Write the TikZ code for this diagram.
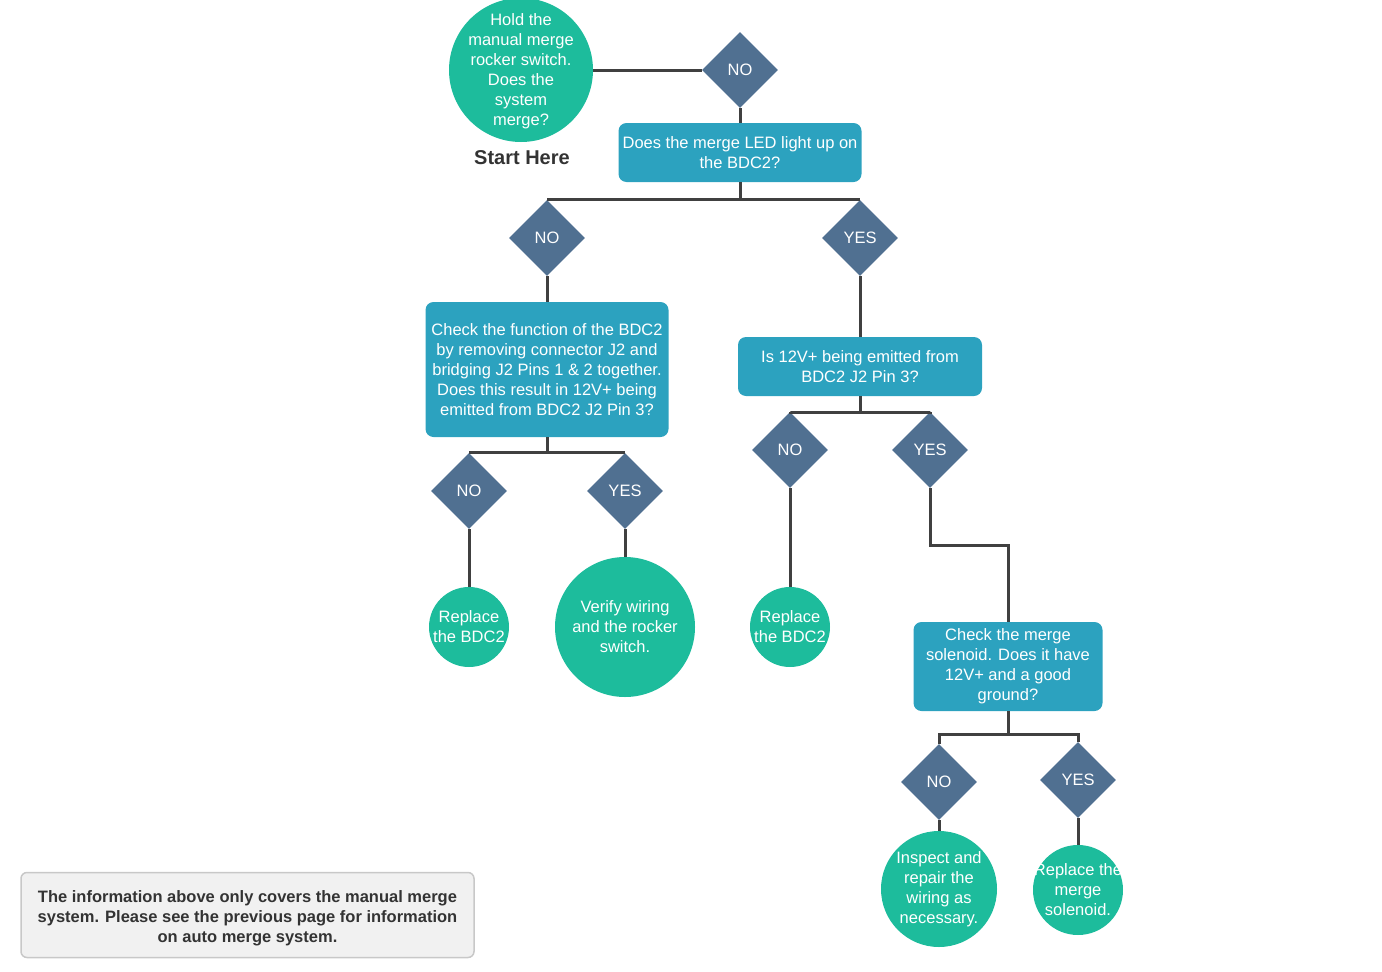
\documentclass[tikz,border=0pt]{standalone}
\usepackage{fontspec}
\setmainfont{Liberation Sans}
\usetikzlibrary{shapes.geometric}

\definecolor{endgreen}{RGB}{29,188,156}
\definecolor{askblue}{RGB}{44,162,191}
\definecolor{choiceblue}{RGB}{80,112,145}
\definecolor{wire}{RGB}{64,64,64}
\definecolor{startgray}{RGB}{51,51,51}
\definecolor{notegray}{RGB}{241,241,241}
\definecolor{noteline}{RGB}{200,200,200}

\begin{document}
\begin{tikzpicture}[x=1pt,y=-1pt,
  every node/.style={font=\fontsize{16.5}{20}\selectfont, text=white, align=center},
  endcircle/.style={circle, fill=endgreen, inner sep=0pt},
  askbox/.style={rectangle, rounded corners=8pt, fill=askblue, inner sep=0pt},
  choice/.style={diamond, aspect=1, fill=choiceblue, minimum size=76pt, inner sep=0pt},
  link/.style={draw=wire, line width=3pt}]
% Page frame
\useasboundingbox (0,0) rectangle (1382,972);

% Start
\node[endcircle, minimum size=144pt, label={[yshift=-1pt]center:Hold the\\manual merge\\rocker switch.\\Does the\\system\\merge?}] (start) at (521,70) {};
\node[font=\fontsize{20}{24}\selectfont\bfseries, text=startgray] (here) at (522,158) {Start Here};
\node[choice] (no1) at (740,70) {NO};
\node[askbox, minimum width=243pt, minimum height=59pt] (led) at (740,152.5) {Does the merge LED light up on\\the BDC2?};

% LED branches
\node[choice] (no2) at (547,238) {NO};
\node[choice] (yes2) at (860,238) {YES};
\node[askbox, minimum width=243pt, minimum height=135pt] (bridge) at (547,369.5) {Check the function of the BDC2\\by removing connector J2 and\\bridging J2 Pins 1 \& 2 together.\\Does this result in 12V+ being\\emitted from BDC2 J2 Pin 3?};
\node[askbox, minimum width=244pt, minimum height=59pt] (emit) at (860,366.5) {Is 12V+ being emitted from\\BDC2 J2 Pin 3?};

% Bridge test
\node[choice] (no3) at (469,491) {NO};
\node[choice] (yes3) at (625,491) {YES};
\node[endcircle, minimum size=80pt, label={center:Replace\\the BDC2}] (bdcA) at (469,627) {};
\node[endcircle, minimum size=140pt, label={center:Verify wiring\\and the rocker\\switch.}] (verify) at (625,627) {};

% Pin 3 test
\node[choice] (no4) at (790,450) {NO};
\node[choice] (yes4) at (930,450) {YES};
\node[endcircle, minimum size=80pt, label={center:Replace\\the BDC2}] (bdcB) at (790,627) {};
\node[askbox, minimum width=189pt, minimum height=89pt] (solenoid) at (1008,666.5) {Check the merge\\solenoid. Does it have\\12V+ and a good\\ground?};

% Solenoid test
\node[choice] (no5) at (939,782) {NO};
\node[choice] (yes5) at (1078,780) {YES};
\node[endcircle, minimum size=116pt, label={center:Inspect and\\repair the\\wiring as\\necessary.}] (inspect) at (939,889) {};
\node[endcircle, minimum size=90pt, label={center:Replace the\\merge\\solenoid.}] (replace) at (1078,890) {};

% Note
\node[draw=noteline, fill=notegray, rounded corners=6pt, line width=1.5pt, minimum width=453pt, minimum height=85pt,
  label={[yshift=-3pt, text=startgray, font=\fontsize{16.5}{20}\selectfont\bfseries]center:The information above only covers the manual merge\\system. Please see the previous page for information\\on auto merge system.}] (note) at (247.5,915) {};

% Connectors
\coordinate (bend) at (930,545);
\coordinate (fork) at (1008,734);
\draw[link] (start.east |- no1.west) -- (no1.west);
\draw[link] (no1.south) -- (led.north);
\draw[link] (led.south) |- (no2.north);
\draw[link] (led.south) |- (yes2.north);
\draw[link] (no2.south) -- (bridge.north);
\draw[link] (yes2.south) -- (emit.north);
\draw[link] (bridge.south) |- (no3.north);
\draw[link] (bridge.south) |- (yes3.north);
\draw[link] (no3.south) -- (bdcA.north);
\draw[link] (yes3.south) -- (verify.north);
\draw[link] (emit.south) -- ++(0,16) -| (no4.north);
\draw[link] (emit.south) -- ++(0,16) -| (yes4.north);
\draw[link] (no4.south) -- (bdcB.north);
\draw[link] (yes4.south) -- (bend) -| (solenoid.north);
\draw[link] (solenoid.south) -- (fork) -| (no5.north);
\draw[link] (fork) -| (yes5.north);
\draw[link] (no5.south) -- (inspect.north);
\draw[link] (yes5.south) -- (replace.north);
\end{tikzpicture}
\end{document}
